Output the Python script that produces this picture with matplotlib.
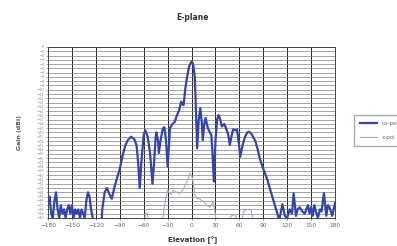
import matplotlib
matplotlib.use("Agg")
import matplotlib.pyplot as plt
import numpy as np

title = "E-plane"
xlabel = "Elevation [°]"
ylabel = "Gain (dBi)"
series_names = ["co-pol", "x-pol"]
x_ticks = list(range(-180, 181, 30))
y_ticks = list(range(-40, 1, 1))

co_ang = [-180, -178, -176, -174, -172, -170, -168, -166, -164, -162, -160, -158, -156, -154,
          -152, -150, -148, -146, -144, -142, -140, -138, -136, -134, -132, -130, -128, -126,
          -124, -122, -114, -112, -109, -106, -103, -100, -97, -94, -90, -86, -83, -80, -76,
          -72, -69, -67, -65, -63, -60, -58, -55, -52, -49, -47, -45, -44, -42, -41, -39, -36,
          -34, -32, -30, -28, -27, -24, -21, -19, -16, -13, -11, -10, -8, -6, -3, 0, 2, 4, 5,
          7, 9, 11, 13, 14, 16, 17.5, 20.5, 23, 24.7, 26, 28, 30, 32, 34, 36, 38, 41, 43, 46,
          48, 50, 52, 55, 57, 59, 61, 64, 67, 70, 72, 75, 80, 83, 86, 89, 92, 95, 98, 102,
          106, 110, 114, 117, 120, 123, 126, 128, 131, 133, 135.5, 139, 142, 146, 148, 150,
          152, 154, 156, 158.5, 161, 163, 166, 169, 171, 173, 176.5, 180]
co_val = [-36, -35, -39, -40, -36, -34, -38, -40, -37, -39, -38, -40, -38, -37,
          -39, -37, -40, -38, -39, -38, -40, -38, -39, -40, -36, -34, -35, -38,
          -40, -45, -45, -38, -34, -33, -34.5, -35.5, -33, -31, -28.5, -25, -23, -21.8, -21,
          -21.5, -23, -27, -33, -27, -20.5, -19.5, -21, -25, -32, -27, -21, -20, -22, -24.8, -22, -19,
          -18.8, -22, -28, -22, -19, -18, -17.5, -16.3, -15, -12.8, -13.5, -13.6, -10, -7.5, -4.5, -3.4, -4, -6.9, -12,
          -23.7, -17, -14.3, -18, -21.8, -18, -16.6, -19, -20, -20.5, -24, -31.5, -22, -17, -15.9, -17, -18.6, -18, -18.9, -20.5,
          -22.9, -21, -19.3, -19.5, -19.3, -22, -25.7, -23, -21, -20, -19.8, -20.3, -22, -24, -26.4, -28, -29.5, -31, -33, -35.5,
          -38, -40.5, -36.8, -39.5, -40, -38, -39, -34.2, -39.5, -38, -37.5, -38.5, -39, -37, -39, -37.5,
          -39.5, -37, -38.5, -40, -38, -38.5, -34.2, -39.5, -37, -37.5, -39.5, -36.5]

x_ang = [-60, -58, -56, -54, -50, -40, -36, -33, -30, -28, -25.5, -23, -21, -18, -15, -12, -9,
         -5, -2, 1, 4, 7, 10, 13, 16, 19, 22.5, 25, 27, 29, 31, 45, 50, 55, 58, 63, 65, 70, 75,
         77, 80]
x_val = [-45, -39, -38.8, -40.5, -41, -41, -40, -36, -33.5, -34, -34.5, -33.5, -33.8, -34, -34.3, -33.7, -32.8,
         -31, -29.5, -30.5, -34.5, -35.5, -35.5, -36, -36.3, -37, -37.5, -37, -36.2, -38, -41, -41, -39.5, -39.2, -41, -41, -38.5, -38, -38.2,
         -41, -45]

fig = plt.figure(figsize=(3.97, 2.46), dpi=100)
ax = fig.add_axes([0.121, 0.114, 0.723, 0.695])

co_line, = ax.plot(co_ang, co_val, color="#3345a8", lw=1.6, label=series_names[0], zorder=3)
x_line, = ax.plot(x_ang, x_val, color="#a8a8d8", lw=0.8, label=series_names[1], zorder=2)

ax.set_xlim(-180, 180)
ax.set_ylim(-40, 0)
ax.set_xticks(x_ticks)
ax.set_yticks(y_ticks)
ax.tick_params(axis="x", labelsize=4.2, colors="#666666", length=1.5, width=0.5, pad=2)
ax.tick_params(axis="y", labelsize=2.6, colors="#888888", length=1.5, width=0.5, pad=1)
ax.grid(axis="y", color="#808080", lw=0.5)
ax.grid(axis="x", color="#222222", lw=0.7)
ax.set_axisbelow(True)
for s in ax.spines.values():
    s.set_color("#444444")
    s.set_linewidth(0.7)

fig.text(0.484, 0.93, title, ha="center", va="center", fontsize=5.5, fontweight="bold", color="#333333")
fig.text(0.484, 0.025, xlabel, ha="center", va="center", fontsize=5, fontweight="bold", color="#333333")
fig.text(0.05, 0.46, ylabel, ha="center", va="center", rotation=90, fontsize=4.5, fontweight="bold", color="#555555")

leg = fig.legend(handles=[co_line, x_line], loc="upper left", bbox_to_anchor=(0.884, 0.545),
                 fontsize=4, frameon=True, fancybox=False, edgecolor="#999999",
                 handlelength=3, borderpad=1.2, labelspacing=1.5)
for t in leg.get_texts():
    t.set_color("#666666")

fig.savefig("out.png", dpi=100)
